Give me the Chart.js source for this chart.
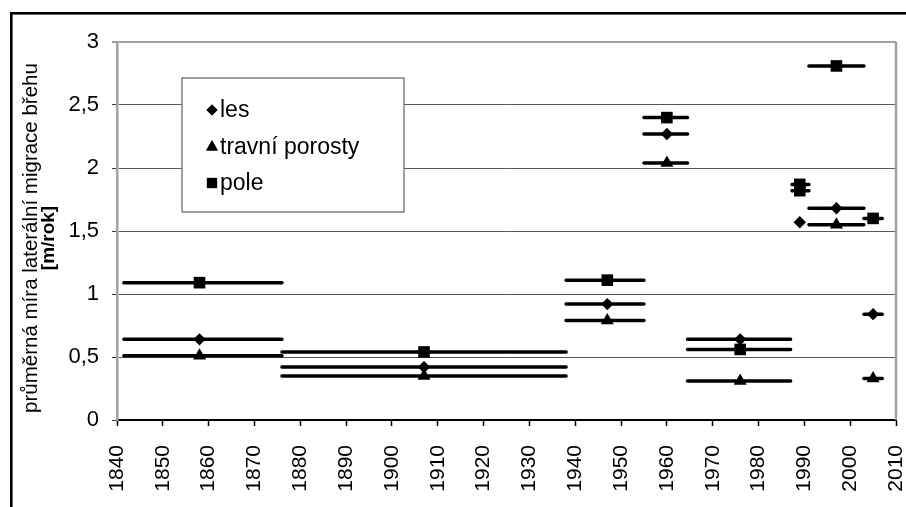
<!DOCTYPE html>
<html>
<head>
<meta charset="utf-8">
<script src="https://cdn.jsdelivr.net/npm/chart.js@4.4.1/dist/chart.umd.min.js"></script>
<style>
body { margin: 0; background: #fff; }
canvas { display: block; }
</style>
</head>
<body>
<canvas id="chart" width="906" height="507"></canvas>
<script>
// data
const seriesNames = ['les', 'travní porosty', 'pole']

const lesYears = [1858, 1907, 1947, 1960, 1976, 1989, 1997, 2005]
const lesValues = [0.64, 0.42, 0.92, 2.27, 0.64, 1.57, 1.68, 0.84]
const lesFrom = [1841.5, 1876, 1938, 1955, 1964.5, null, 1991, 2003]
const lesTo = [1876, 1938, 1955, 1964.5, 1987, null, 2003, 2007]

const travniYears = [1858, 1907, 1947, 1960, 1976, 1997, 2005]
const travniValues = [0.51, 0.35, 0.79, 2.04, 0.31, 1.55, 0.33]
const travniFrom = [1841.5, 1876, 1938, 1955, 1964.5, 1991, 2003]
const travniTo = [1876, 1938, 1955, 1964.5, 1987, 2003, 2007]

const poleYears = [1858, 1907, 1947, 1960, 1976, 1989, 1989, 1997, 2005]
const poleValues = [1.09, 0.54, 1.11, 2.40, 0.56, 1.87, 1.82, 2.81, 1.60]
const poleFrom = [1841.5, 1876, 1938, 1955, 1964.5, 1987.3, 1987.3, 1991, 2003]
const poleTo = [1876, 1938, 1955, 1964.5, 1987, 1991, 1991, 2003, 2007]

const yTitle = 'průměrná míra laterální migrace břehu'
const yUnit = '[m/rok]'

const FONT = '"Liberation Sans", Arial, sans-serif'

function points(years, values) {
    return years.map((x, i) => ({ x: x, y: values[i] }))
}

// horizontal period bars, broken with null so every period is its own segment
function barPoints(from, to, values) {
    let pts = []
    for (let i = 0; i < values.length; ++i) {
        if (from[i] == null) continue
        pts.push({ x: from[i], y: values[i] }, { x: to[i], y: values[i] }, { x: to[i], y: null })
    }
    return pts
}

function markerSet(label, data, style, radius) {
    return {
        label: label,
        data: data,
        pointStyle: style,
        pointRadius: radius,
        pointBackgroundColor: '#000',
        pointBorderColor: '#000',
        pointBorderWidth: 0,
        showLine: false,
        order: 0
    }
}

function barSet(data) {
    return {
        label: '',
        data: data,
        showLine: true,
        pointRadius: 0,
        borderColor: '#000',
        borderWidth: 3.5,
        borderCapStyle: 'round',
        spanGaps: false,
        order: 1
    }
}

const markerStyles = [['rectRot', 6.2], ['triangle', 7.5], ['rect', 8.2]]

// plugin: outer frame, right plot border, y title and the floating legend
const decorations = {
    id: 'decorations',
    beforeDraw(chart) {
        let ctx = chart.ctx
        ctx.save()
        ctx.fillStyle = '#fff'
        ctx.fillRect(0, 0, chart.width, chart.height)
        ctx.strokeStyle = '#000'
        ctx.lineWidth = 2.6
        ctx.strokeRect(11.3, 13.3, 1000, 1000)
        ctx.restore()
    },
    afterDatasetsDraw(chart) {
        let ctx = chart.ctx
        let area = chart.chartArea
        ctx.save()
        ctx.strokeStyle = '#a0a0a0'
        ctx.lineWidth = 2.5
        ctx.beginPath()
        ctx.moveTo(area.right, area.top)
        ctx.lineTo(area.right, area.bottom)
        ctx.stroke()

        // legend box
        ctx.fillStyle = '#fff'
        ctx.fillRect(182, 78, 222, 134)
        ctx.strokeStyle = '#808080'
        ctx.lineWidth = 1.5
        ctx.strokeRect(182, 78, 222, 134)
        let rows = [110, 147, 183]
        ctx.font = '23px ' + FONT
        ctx.textBaseline = 'middle'
        ctx.textAlign = 'left'
        for (let i = 0; i < seriesNames.length; ++i) {
            ctx.fillStyle = '#000'
            ctx.strokeStyle = '#000'
            Chart.helpers.drawPoint(ctx, { pointStyle: markerStyles[i][0], radius: [5.5, 6.8, 7.2][i], rotation: 0, borderWidth: 0 }, 212, rows[i])
            ctx.fill()
            ctx.fillText(seriesNames[i], 220, rows[i] + 1)
        }

        // y axis title, two lines
        ctx.translate(31, 238)
        ctx.rotate(-Math.PI / 2)
        ctx.textAlign = 'center'
        ctx.fillStyle = '#000'
        ctx.font = '20.5px ' + FONT
        ctx.fillText(yTitle, 0, 0)
        ctx.font = 'bold 19px ' + FONT
        ctx.fillText(yUnit, 0, 18)
        ctx.restore()
    }
}

let ctx = document.getElementById('chart').getContext('2d')
let chart = new Chart(ctx, {
    type: 'scatter',
    data: {
        datasets: [
            markerSet(seriesNames[0], points(lesYears, lesValues), markerStyles[0][0], markerStyles[0][1]),
            markerSet(seriesNames[1], points(travniYears, travniValues), markerStyles[1][0], markerStyles[1][1]),
            markerSet(seriesNames[2], points(poleYears, poleValues), markerStyles[2][0], markerStyles[2][1]),
            barSet(barPoints(lesFrom, lesTo, lesValues)),
            barSet(barPoints(travniFrom, travniTo, travniValues)),
            barSet(barPoints(poleFrom, poleTo, poleValues))
        ]
    },
    options: {
        responsive: false,
        animation: false,
        layout: { padding: { left: 0, top: 42, right: 10, bottom: 0 } },
        plugins: {
            legend: { display: false },
            tooltip: { enabled: false }
        },
        scales: {
            x: {
                type: 'linear',
                min: 1840,
                max: 2010,
                afterFit: (scale) => {
                    scale.height = 87
                    scale.paddingLeft = 0
                    scale.paddingRight = 0
                },
                ticks: {
                    stepSize: 10,
                    minRotation: 90,
                    maxRotation: 90,
                    padding: 19,
                    color: '#000',
                    font: { family: FONT, size: 21 },
                    callback: (v) => String(v)
                },
                grid: {
                    drawOnChartArea: false,
                    drawTicks: true,
                    tickLength: 6,
                    tickColor: '#000',
                    tickWidth: 1.5
                },
                border: { color: '#000', width: 2 }
            },
            y: {
                min: 0,
                max: 3,
                afterFit: (scale) => {
                    scale.width = 117
                    scale.paddingTop = 0
                    scale.paddingBottom = 0
                },
                ticks: {
                    stepSize: 0.5,
                    padding: 13,
                    color: '#000',
                    font: { family: FONT, size: 22 },
                    callback: (v) => String(v).replace('.', ',')
                },
                grid: {
                    color: (c) => c.tick && c.tick.value === 3 ? '#a0a0a0' : (c.tick && c.tick.value === 0 ? 'rgba(0,0,0,0)' : '#555'),
                    lineWidth: (c) => c.tick && c.tick.value === 3 ? 2 : 1,
                    tickLength: 5,
                    tickColor: '#333',
                    tickWidth: 1
                },
                border: { color: '#a0a0a0', width: 2.5 }
            }
        }
    },
    plugins: [decorations]
})
</script>
</body>
</html>
